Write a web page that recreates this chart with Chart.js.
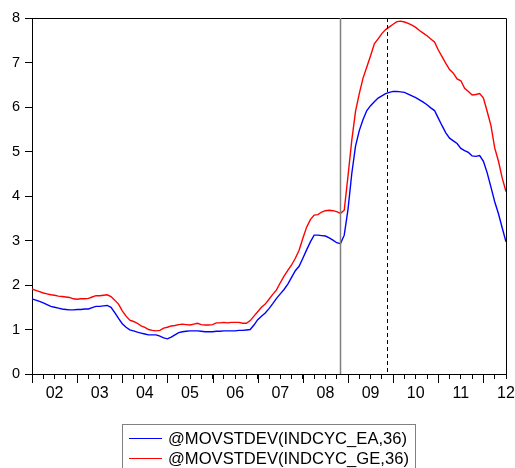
<!DOCTYPE html>
<html><head><meta charset="utf-8">
<script src="https://cdn.jsdelivr.net/npm/chart.js@4.4.0/dist/chart.umd.min.js"></script>
<style>
html,body{margin:0;padding:0;background:#fff;overflow:hidden;}
#wrap{position:relative;width:515px;height:468px;}
#c{position:absolute;left:0;top:0;}
#legend{position:absolute;left:122px;top:424px;width:292px;height:60px;border:1px solid #808080;font-family:"Liberation Sans",Arial,sans-serif;font-size:16.6px;color:#000;}
.row{position:absolute;left:0;height:20px;line-height:20px;white-space:nowrap;}
.sw{position:absolute;left:6px;width:33px;height:0;top:9px;}
.lab{position:absolute;left:45px;top:0;}
</style></head>
<body>
<div id="wrap">
<canvas id="c" width="515" height="468"></canvas>
<div id="legend"></div>
</div>
<script>
// Monthly observations, 2002M01 .. 2012M07 (index 0 = Jan 2002)
const startYear = 2002;
const seriesNames = ["@MOVSTDEV(INDCYC_EA,36)", "@MOVSTDEV(INDCYC_GE,36)"];
const movstdevEA = [
  1.69,1.66,1.63,1.60,1.56,1.52,1.50,1.48,1.46,1.45,1.44,1.44,
  1.45,1.45,1.46,1.46,1.49,1.52,1.52,1.53,1.54,1.50,1.38,1.25,
  1.13,1.05,0.99,0.97,0.94,0.92,0.90,0.88,0.88,0.88,0.85,0.81,
  0.79,0.83,0.88,0.93,0.95,0.96,0.97,0.97,0.97,0.96,0.95,0.95,
  0.95,0.96,0.96,0.97,0.97,0.97,0.97,0.98,0.98,0.99,1.00,1.10,
  1.22,1.30,1.37,1.47,1.58,1.70,1.80,1.90,2.02,2.17,2.32,2.42,
  2.60,2.79,2.97,3.12,3.12,3.11,3.10,3.06,3.01,2.95,2.93,3.12,
  3.70,4.50,5.12,5.47,5.72,5.92,6.03,6.12,6.20,6.25,6.30,6.33,
  6.35,6.35,6.34,6.33,6.29,6.25,6.21,6.16,6.11,6.05,5.98,5.92,
  5.75,5.58,5.42,5.30,5.24,5.18,5.07,5.02,4.98,4.90,4.89,4.91,
  4.78,4.52,4.20,3.87,3.60,3.28,2.97
];
const movstdevGE = [
  1.91,1.88,1.85,1.82,1.80,1.78,1.77,1.75,1.74,1.73,1.72,1.69,
  1.68,1.69,1.69,1.70,1.73,1.76,1.76,1.77,1.78,1.74,1.66,1.57,
  1.42,1.30,1.21,1.18,1.14,1.08,1.05,1.00,0.98,0.97,0.98,1.03,
  1.05,1.08,1.09,1.11,1.12,1.11,1.10,1.12,1.14,1.11,1.10,1.10,
  1.11,1.15,1.15,1.16,1.15,1.16,1.16,1.16,1.14,1.14,1.20,1.30,
  1.40,1.50,1.57,1.68,1.79,1.89,2.05,2.20,2.33,2.45,2.60,2.78,
  3.05,3.30,3.47,3.57,3.58,3.64,3.67,3.68,3.67,3.65,3.61,3.68,
  4.45,5.25,5.90,6.30,6.65,6.90,7.15,7.42,7.53,7.65,7.74,7.80,
  7.86,7.92,7.93,7.91,7.88,7.84,7.79,7.72,7.66,7.60,7.53,7.46,
  7.28,7.13,6.98,6.84,6.76,6.63,6.59,6.42,6.35,6.27,6.28,6.30,
  6.20,5.90,5.58,5.08,4.78,4.40,4.10
];
const yearLabels = ["02","03","04","05","06","07","08","09","10","11","12"];
const yTicks = [0,1,2,3,4,5,6,7,8];
const solidLineAt = 82;    // 2008M11
const dashedLineAt = 94.25; // late 2009
const seriesColors = ["#0000FF", "#FF0000"];

const toPoints = arr => arr.map((v, i) => ({x: i, y: v}));

const decorPlugin = {
  id: 'decor',
  afterDatasetsDraw(chart) {
    const {ctx, chartArea: a, scales: {x}} = chart;
    ctx.save();
    // frame top and right
    ctx.strokeStyle = '#000';
    ctx.lineWidth = 1;
    ctx.beginPath();
    ctx.moveTo(a.left, a.top + 0.5);
    ctx.lineTo(Math.round(a.right) + 0.5, a.top + 0.5);
    ctx.lineTo(Math.round(a.right) + 0.5, a.bottom);
    ctx.stroke();
    // vertical event lines
    let px = Math.round(x.getPixelForValue(solidLineAt)) + 0.5;
    ctx.strokeStyle = '#7f7f7f';
    ctx.lineWidth = 1.5;
    ctx.beginPath(); ctx.moveTo(px, a.top); ctx.lineTo(px, a.bottom); ctx.stroke();
    px = Math.round(x.getPixelForValue(dashedLineAt)) + 0.5;
    ctx.strokeStyle = '#000';
    ctx.lineWidth = 1;
    ctx.setLineDash([4, 3]);
    ctx.beginPath(); ctx.moveTo(px, a.top); ctx.lineTo(px, a.bottom); ctx.stroke();
    ctx.setLineDash([]);
    // major (yearly) ticks
    ctx.strokeStyle = '#000';
    ctx.lineWidth = 1;
    for (let m = 0; m <= x.max; m += 12) {
      const tx = Math.round(x.getPixelForValue(m)) + 0.5;
      ctx.beginPath(); ctx.moveTo(tx, a.bottom); ctx.lineTo(tx, a.bottom + 9); ctx.stroke();
    }
    ctx.restore();
  }
};

const fontX = {family: '"Liberation Sans", Arial, sans-serif', size: 16};
const fontY = {family: '"Liberation Sans", Arial, sans-serif', size: 14.5};

new Chart(document.getElementById('c'), {
  type: 'line',
  data: {
    datasets: [
      {label: seriesNames[0], data: toPoints(movstdevEA), borderColor: seriesColors[0], borderWidth: 1.4, pointRadius: 0, tension: 0, fill: false},
      {label: seriesNames[1], data: toPoints(movstdevGE), borderColor: seriesColors[1], borderWidth: 1.4, pointRadius: 0, tension: 0, fill: false}
    ]
  },
  options: {
    responsive: false,
    animation: false,
    layout: {padding: {top: 18, right: 9, left: 0, bottom: 64}},
    plugins: {legend: {display: false}, tooltip: {enabled: false}},
    scales: {
      x: {
        type: 'linear', min: 0, max: (movstdevEA.length - 1),
        afterFit: s => { s.height = 30; s.paddingLeft = 0; s.paddingRight = 0; },
        afterBuildTicks: s => { const t = []; for (let v = 0; v <= s.max; v += 3) t.push({value: v}); s.ticks = t; },
        ticks: {
          autoSkip: false, maxRotation: 0, minRotation: 0, padding: 5, color: '#000', font: fontX,
          callback: v => (v % 12 === 6) ? yearLabels[(v - 6) / 12] : ''
        },
        grid: {drawOnChartArea: false, drawTicks: true, tickLength: 5, tickColor: '#000'},
        border: {display: true, color: '#000', width: 1}
      },
      y: {
        min: 0, max: 8,
        afterFit: s => { s.width = 32; s.paddingTop = 0; s.paddingBottom = 0; },
        afterBuildTicks: s => { s.ticks = yTicks.map(v => ({value: v})); },
        ticks: {padding: 5, color: '#000', font: fontY},
        grid: {drawOnChartArea: false, drawTicks: true, tickLength: 7, tickColor: '#000'},
        border: {display: true, color: '#000', width: 1}
      }
    }
  },
  plugins: [decorPlugin]
});

// legend (HTML text)
const lg = document.getElementById('legend');
seriesNames.forEach((name, k) => {
  const row = document.createElement('div');
  row.className = 'row';
  row.style.top = (4 + k * 20) + 'px';
  const sw = document.createElement('div');
  sw.className = 'sw';
  sw.style.borderTop = '1.5px solid ' + seriesColors[k];
  const lab = document.createElement('span');
  lab.className = 'lab';
  lab.textContent = name;
  row.appendChild(sw); row.appendChild(lab);
  lg.appendChild(row);
});
</script>
</body></html>
